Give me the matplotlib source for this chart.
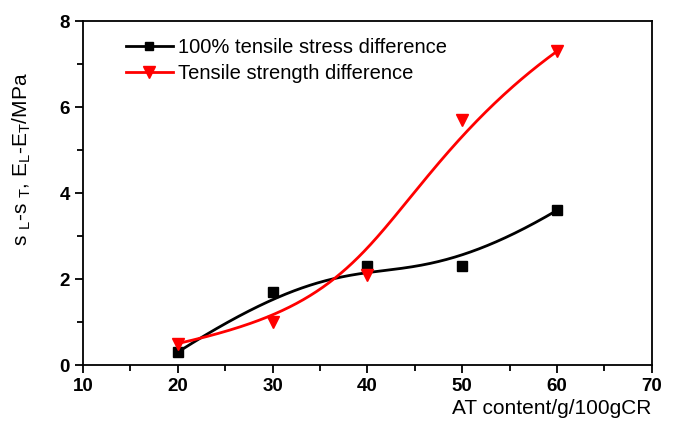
import numpy as np
import matplotlib
matplotlib.use("Agg")
import matplotlib.pyplot as plt
from matplotlib.ticker import MultipleLocator

plt.rcParams['font.family'] = ['Liberation Sans', 'DejaVu Sans']
plt.rcParams['mathtext.default'] = 'regular'

x_vals = [20, 30, 40, 50, 60]
stress_diff = [0.3, 1.7, 2.3, 2.3, 3.6]
strength_diff = [0.5, 1.0, 2.1, 5.7, 7.3]
labels = ["100% tensile stress difference", "Tensile strength difference"]


def bspline(px, py, n=300):
    P = np.column_stack([px, py]).astype(float)
    k = 3
    m = len(P)
    inner = np.linspace(0, 1, m - k + 1)[1:-1]
    t = np.concatenate([[0] * (k + 1), inner, [1] * (k + 1)])

    def N(i, p, u):
        if p == 0:
            if t[i] <= u < t[i + 1] or (u == 1 and t[i] < t[i + 1] == 1):
                return 1.0
            return 0.0
        a = 0.0
        if t[i + p] != t[i]:
            a = (u - t[i]) / (t[i + p] - t[i]) * N(i, p - 1, u)
        b = 0.0
        if t[i + p + 1] != t[i + 1]:
            b = (t[i + p + 1] - u) / (t[i + p + 1] - t[i + 1]) * N(i + 1, p - 1, u)
        return a + b

    us = np.linspace(0, 1, n)
    out = []
    for u in us:
        w = np.array([N(i, k, u) for i in range(m)])
        out.append(w @ P)
    out = np.array(out)
    return out[:, 0], out[:, 1]


fig = plt.figure(figsize=(6.74, 4.24), dpi=100)
ax = fig.add_axes([0.123, 0.139, 0.844, 0.811])

bx, by = bspline(x_vals, stress_diff)
rx, ry = bspline(x_vals, strength_diff)
ax.plot(bx, by, color='black', lw=2.0)
ax.plot(rx, ry, color='red', lw=2.0)
ax.plot(x_vals, stress_diff, 's', color='black', ms=7, ls='none')
ax.plot(x_vals, strength_diff, 'v', color='red', ms=8, ls='none')

# legend handles
h1, = ax.plot([], [], color='black', lw=2.0, marker='s', ms=6)
h2, = ax.plot([], [], color='red', lw=2.0, marker='v', ms=8)
leg = ax.legend([h1, h2], labels, loc='upper left', bbox_to_anchor=(0.055, 0.985),
                frameon=False, fontsize=14.5, handlelength=2.3, handletextpad=0.25,
                labelspacing=0.35, borderaxespad=0.2)

ax.set_xlim(10, 70)
ax.set_ylim(0, 8)
ax.xaxis.set_major_locator(MultipleLocator(10))
ax.xaxis.set_minor_locator(MultipleLocator(5))
ax.yaxis.set_major_locator(MultipleLocator(2))
ax.yaxis.set_minor_locator(MultipleLocator(1))
ax.tick_params(which='both', direction='out', top=False, right=False, width=1.3)
ax.tick_params(which='major', length=6, labelsize=13.5)
ax.tick_params(which='minor', length=4)
for lab in ax.get_xticklabels() + ax.get_yticklabels():
    lab.set_fontweight('bold')
for s in ax.spines.values():
    s.set_linewidth(1.3)

ax.set_xlabel("AT content/g/100gCR", fontsize=15, ha='right', va='top')
ax.xaxis.set_label_coords(1.0, -0.1)
ax.set_ylabel(r"s $_L$-s $_T$, E$_L$-E$_T$/MPa", fontsize=15)
ax.yaxis.set_label_coords(-0.088, 0.6)

fig.savefig("out.png", dpi=100)
